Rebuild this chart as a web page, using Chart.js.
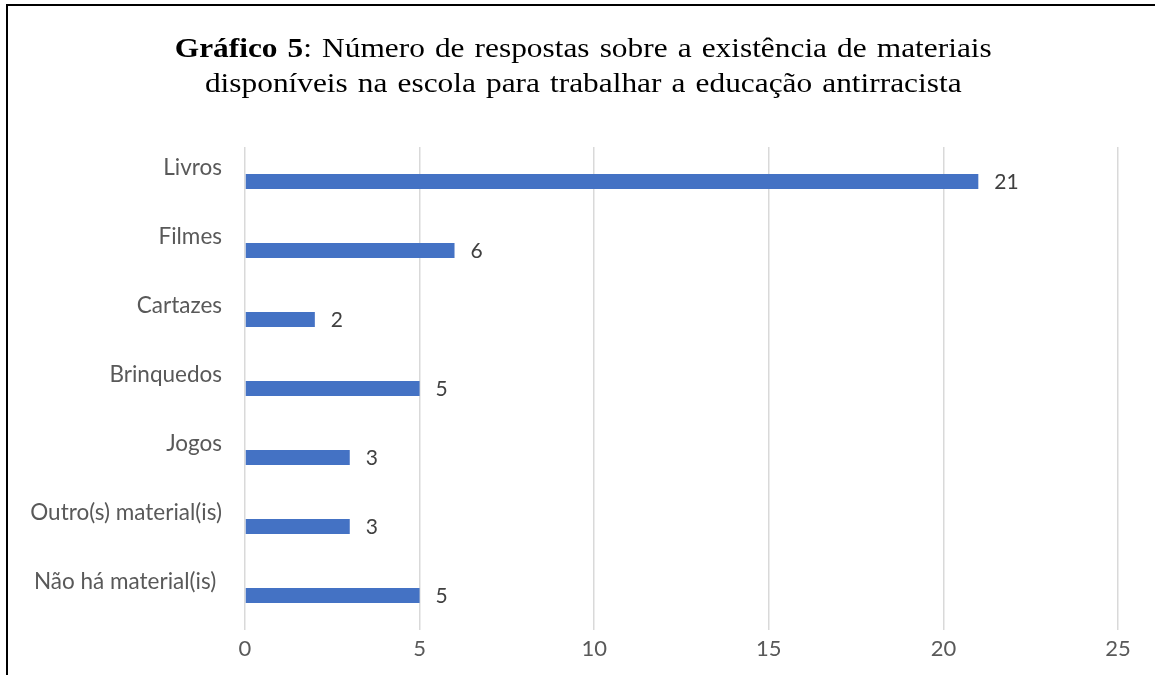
<!DOCTYPE html>
<html>
<head>
<meta charset="utf-8">
<script src="https://cdn.jsdelivr.net/npm/chart.js@4/dist/chart.umd.min.js"></script>
<style>
  body { margin: 0; background: #fff; }
  #moldura {
    position: absolute; left: 6px; top: 4px;
    width: 1149px; height: 671px;
    border-top: 2px solid #000; border-left: 2px solid #000;
  }
  #titulo {
    position: absolute; left: 0; top: 24px; width: 1147px; padding-left: 3px;
    text-align: center; font-family: "Liberation Serif", "Times New Roman", serif;
    font-size: 28px; line-height: 35px; color: #000;
    word-spacing: 2px; transform: scaleX(1.12); transform-origin: 587px 0;
  }
  canvas { position: absolute; left: 0; top: 0; }
</style>
</head>
<body>
<div id="moldura">
  <canvas id="chartMateriais" width="1147" height="669"></canvas>
  <div id="titulo"><b>Gráfico 5</b>: Número de respostas sobre a existência de materiais<br>disponíveis na escola para trabalhar a educação antirracista</div>
</div>
<script>
// dados
const categorias = ['Livros', 'Filmes', 'Cartazes', 'Brinquedos', 'Jogos', 'Outro(s) material(is)', 'Não há material(is) '];
const respostas = [21, 6, 2, 5, 3, 3, 5];
const ticksX = [0, 5, 10, 15, 20, 25];

const familia = 'Lato, "Noto Sans", sans-serif';

// rótulos de valor à direita de cada barra
const rotulosValor = {
    id: 'rotulosValor',
    afterDatasetsDraw(chart) {
        const ctx = chart.ctx;
        const meta = chart.getDatasetMeta(0);
        ctx.save();
        ctx.font = '21px ' + familia;
        ctx.fillStyle = '#404040';
        ctx.textAlign = 'left';
        ctx.textBaseline = 'middle';
        meta.data.forEach((barra, i) => {
            ctx.fillText(String(respostas[i]), barra.x + 16, barra.y + 1);
        });
        ctx.restore();
    }
};

const ctx = document.getElementById('chartMateriais').getContext('2d');
new Chart(ctx, {
    type: 'bar',
    data: {
        labels: categorias,
        datasets: [{
            label: 'Respostas',
            data: respostas,
            backgroundColor: '#4472C4',
            categoryPercentage: 1,
            barPercentage: 0.22
        }]
    },
    options: {
        indexAxis: 'y',
        responsive: false,
        animation: false,
        layout: { padding: { top: 141, right: 37, left: 0, bottom: 0 } },
        plugins: {
            legend: { display: false },
            tooltip: { enabled: false }
        },
        scales: {
            x: {
                min: 0,
                max: 25,
                afterBuildTicks: scale => { scale.ticks = ticksX.map(v => ({ value: v })); },
                afterFit: scale => { scale.height = 45; },
                border: { display: false },
                grid: { color: '#d9d9d9', lineWidth: 1.5, drawTicks: false },
                ticks: { color: '#595959', font: { family: familia, size: 22 }, padding: 6 }
            },
            y: {
                afterFit: scale => { scale.width = 237; },
                border: { display: false },
                grid: { display: false, drawTicks: false },
                ticks: { color: '#595959', font: { family: familia, size: 22.5 }, padding: 23, labelOffset: -13.5 }
            }
        }
    },
    plugins: [rotulosValor]
});
</script>
</body>
</html>
